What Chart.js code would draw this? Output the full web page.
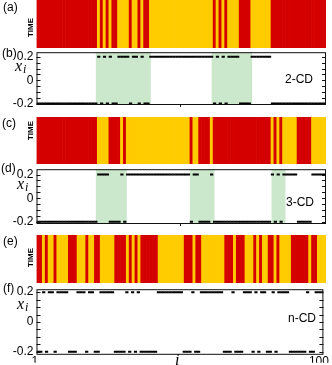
<!DOCTYPE html>
<html>
<head>
<meta charset="utf-8">
<script src="https://cdn.jsdelivr.net/npm/chart.js@4.4.0/dist/chart.umd.min.js"></script>
<style>
  html, body { margin: 0; padding: 0; background: #fff; }
  #wrap { position: relative; width: 332px; height: 365px; overflow: hidden; font-family: "Liberation Sans", Arial, sans-serif; }
  canvas { position: absolute; left: 0; }
  .lbl { position: absolute; font-size: 12px; line-height: 12px; color: #000; white-space: nowrap; z-index: 5; }
  .time { position: absolute; width: 30px; font-size: 8px; line-height: 9px; font-weight: bold; text-align: center; transform: rotate(-90deg); z-index: 5; }
  .xi { position: absolute; font-family: "Liberation Serif", "DejaVu Serif", serif; font-style: italic; font-size: 16px; line-height: 16px; z-index: 5; }
  .xi span { font-size: 12px; position: relative; top: 2px; margin-left: 1px; }
</style>
</head>
<body>
<div id="wrap">
  <canvas id="ca" width="332" height="48" style="top:0px"></canvas>
  <canvas id="cc" width="332" height="47" style="top:117px"></canvas>
  <canvas id="ce" width="332" height="48" style="top:235px"></canvas>
  <canvas id="cb" width="332" height="79" style="top:42px"></canvas>
  <canvas id="cd" width="332" height="81" style="top:159px"></canvas>
  <canvas id="cf" width="332" height="86" style="top:279px"></canvas>

  <div class="lbl" style="left:3px;top:1px">(a)</div>
  <div class="lbl" style="left:2px;top:47px">(b)</div>
  <div class="lbl" style="left:2px;top:117px">(c)</div>
  <div class="lbl" style="left:1px;top:162px">(d)</div>
  <div class="lbl" style="left:3px;top:235px">(e)</div>
  <div class="lbl" style="left:3px;top:282px">(f)</div>

  <div class="time" style="left:15px;top:23px">TIME</div>
  <div class="time" style="left:15px;top:126px">TIME</div>
  <div class="time" style="left:15px;top:253px">TIME</div>

  <div class="xi" style="left:15px;top:58px">x<span>i</span></div>
  <div class="xi" style="left:17px;top:176px">x<span>i</span></div>
  <div class="xi" style="left:17px;top:296px">x<span>i</span></div>

  <div class="lbl" style="left:285px;top:73px">2-CD</div>
  <div class="lbl" style="left:286px;top:196px">3-CD</div>
  <div class="lbl" style="left:288px;top:312px">n-CD</div>

  <div class="xi" style="left:175px;top:352px">i</div>
</div>

<script>
// —————— DADOS ——————
const L = -0.2, H = 0.2;
const idx = Array.from({ length: 100 }, (_, k) => k + 1);   // i = 1..100

// x_i para 2-CD (painéis a, b)
const xi2CD = [
  L, L, L, L, L, L, L, L, L, L,
  L, L, L, L, L, L, L, L, L, L,
  L, H, L, H, L, H, L, L, H, H,
  H, H, L, H, H, L, H, L, L, H,
  H, H, H, H, H, H, H, H, H, H,
  H, H, H, H, H, H, H, H, H, H,
  H, L, H, L, H, L, H, H, H, H,
  L, L, L, L, H, H, H, H, H, H,
  H, L, L, L, L, L, L, L, L, L,
  L, L, L, L, L, L, L, L, L, L
];

// x_i para 3-CD (painéis c, d)
const xi3CD = [
  L, L, L, L, L, L, L, L, L, L,
  L, L, L, L, L, L, L, L, L, L,
  L, H, H, H, H, L, L, L, L, H,
  L, H, H, H, H, H, H, H, H, H,
  H, H, H, H, H, H, H, H, H, H,
  H, H, H, L, H, H, L, L, L, L,
  H, L, L, L, L, L, L, L, L, L,
  L, L, L, L, L, L, L, L, L, L,
  L, H, L, H, L, H, H, H, H, H,
  L, L, L, L, L, H, H, H, H, H
];

// x_i para n-CD (painéis e, f)
const xiNCD = [
  L, L, H, L, H, H, L, H, H, H,
  H, L, L, L, H, H, H, L, H, H,
  L, L, H, H, H, H, H, L, L, L,
  L, H, L, H, L, H, L, L, L, L,
  L, L, H, H, H, H, H, H, H, H,
  H, L, L, L, H, L, L, H, H, H,
  H, H, H, H, H, L, L, L, H, L,
  L, L, H, H, H, L, H, L, H, H,
  L, L, H, L, H, H, H, H, L, L,
  L, L, L, L, H, L, L, H, H, H
];

// regiões sombreadas (intervalos em i)
const shade2CD = [[21, 40], [61, 75]];
const shade3CD = [[21, 31.7], [53.5, 62], [81.7, 86.5]];

const yTicks = [-0.2, -0.15, -0.1, -0.05, 0, 0.05, 0.1, 0.15, 0.2];
const yLabelled = [-0.2, 0, 0.2];
const xTicks = [1, 100];

const RED = '#d40000';
const YELLOW = '#ffcc00';
const GREEN = 'rgb(204, 232, 204)';
const tickFont = { family: 'Liberation Sans', size: 12 };

// —————— PLUGINS ——————
const shadePlugin = {
  id: 'shade',
  beforeDatasetsDraw(chart, args, opts) {
    const { ctx, chartArea: a, scales: { x } } = chart;
    ctx.save();
    ctx.fillStyle = GREEN;
    (opts.ranges || []).forEach(r => {
      const x0 = x.getPixelForValue(r[0]);
      const x1 = x.getPixelForValue(r[1]);
      ctx.fillRect(x0, a.top, x1 - x0, a.bottom - a.top);
    });
    ctx.restore();
  }
};

const boxPlugin = {
  id: 'box',
  afterDatasetsDraw(chart, args, opts) {
    const { ctx, chartArea: a, scales: { x, y } } = chart;
    ctx.save();
    ctx.strokeStyle = '#111';
    ctx.lineWidth = 1;
    ctx.strokeRect(a.left + 0.5, a.top + 0.5, a.right - a.left - 1, a.bottom - a.top - 1);
    // ticks para dentro, esquerda e direita
    y.ticks.forEach(t => {
      const py = Math.round(y.getPixelForValue(t.value)) + 0.5;
      ctx.beginPath();
      ctx.moveTo(a.left, py); ctx.lineTo(a.left + 4, py);
      ctx.moveTo(a.right, py); ctx.lineTo(a.right - 4, py);
      ctx.stroke();
    });
    (opts.xMarks || []).forEach(v => {
      const px = Math.round(x.getPixelForValue(v)) + 0.5;
      ctx.beginPath();
      ctx.moveTo(px, a.bottom); ctx.lineTo(px, a.bottom + 2);
      ctx.stroke();
    });
    ctx.restore();
  }
};

// —————— GRÁFICOS ——————
function stripeChart(id, xi) {
  new Chart(document.getElementById(id), {
    type: 'bar',
    data: {
      labels: idx,
      datasets: [{
        data: xi.map(v => [-v, v]),
        backgroundColor: xi.map(v => (v < 0 ? RED : YELLOW)),
        borderWidth: 0,
        barPercentage: 1,
        categoryPercentage: 1
      }]
    },
    options: {
      responsive: false,
      animation: false,
      events: [],
      layout: { autoPadding: false, padding: { left: 36.5, right: 6, top: 0, bottom: 0 } },
      plugins: { legend: { display: false }, tooltip: { enabled: false } },
      scales: {
        x: { display: false },
        y: { display: false, min: -0.2, max: 0.2 }
      }
    }
  });
}

function scatterChart(id, xi, yMin, yMax, shades, showX) {
  new Chart(document.getElementById(id), {
    type: 'scatter',
    data: {
      datasets: [{
        data: idx.map((i, k) => ({ x: i, y: xi[k] })),
        pointStyle: 'line',
        pointRadius: 1.6,
        pointBorderWidth: 2,
        borderColor: '#000',
        backgroundColor: '#000'
      }]
    },
    options: {
      responsive: false,
      animation: false,
      events: [],
      layout: { autoPadding: false, padding: { left: 0, right: 6, top: 8, bottom: showX ? 0 : 8 } },
      plugins: {
        legend: { display: false },
        tooltip: { enabled: false },
        shade: { ranges: shades },
        box: { xMarks: showX ? [] : [50] }
      },
      scales: {
        x: {
          type: 'linear', min: 0.5, max: 100.5, display: showX,
          grid: { display: false, drawTicks: false }, border: { display: false },
          afterBuildTicks: s => { s.ticks = xTicks.map(v => ({ value: v })); },
          afterFit: s => { s.height = 8; },
          ticks: { font: tickFont, color: '#000', padding: 0, labelOffset: -3, maxRotation: 0, autoSkip: false }
        },
        y: {
          min: yMin, max: yMax,
          grid: { display: false, drawTicks: false }, border: { display: false },
          afterBuildTicks: s => { s.ticks = yTicks.map(v => ({ value: v })); },
          afterFit: s => { s.width = 36.5; },
          ticks: {
            font: tickFont, color: '#000', padding: 3, autoSkip: false,
            callback: v => (yLabelled.includes(v) ? (v === 0 ? '0' : v.toFixed(1)) : '')
          }
        }
      }
    },
    plugins: [shadePlugin, boxPlugin]
  });
}

stripeChart('ca', xi2CD);
stripeChart('cc', xi3CD);
stripeChart('ce', xiNCD);
scatterChart('cb', xi2CD, -0.212, 0.24, shade2CD, false);
scatterChart('cd', xi3CD, -0.218, 0.245, shade3CD, false);
scatterChart('cf', xiNCD, -0.22, 0.22, [], true);
</script>
</body>
</html>
